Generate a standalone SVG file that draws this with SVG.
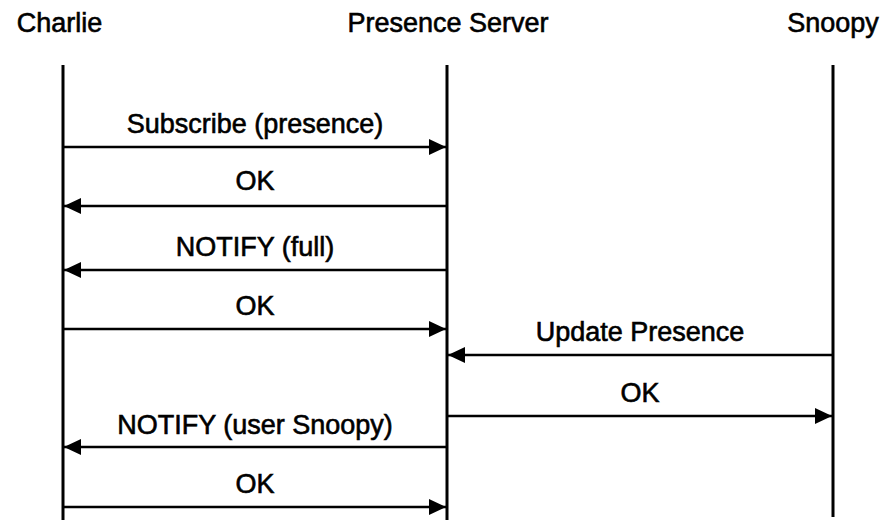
<svg xmlns="http://www.w3.org/2000/svg" width="894" height="525" viewBox="0 0 894 525">
<style>
text{font-family:"Liberation Sans",Arial,sans-serif;font-size:27px;fill:#000;stroke:#000;stroke-width:0.6;text-anchor:middle}
.life{stroke:#000;stroke-width:3;fill:none}
.msg{stroke:#000;stroke-width:2.6;fill:none;marker-end:url(#ah)}
</style>
<defs>
<marker id="ah" markerUnits="userSpaceOnUse" markerWidth="18" markerHeight="16" viewBox="0 0 18 16" refX="17" refY="8" orient="auto">
<path d="M0,0 L17,8 L0,16 Z" fill="#000"/>
</marker>
</defs>
<rect width="894" height="525" fill="#fff"/>
<g id="charlie">
<text x="59.5" y="32">Charlie</text>
<line class="life" x1="63" y1="65" x2="63" y2="520"/>
</g>
<g id="server">
<text x="448" y="32">Presence Server</text>
<line class="life" x1="447" y1="65" x2="447" y2="520"/>
</g>
<g id="snoopy">
<text x="833" y="32">Snoopy</text>
<line class="life" x1="833" y1="65" x2="833" y2="517"/>
</g>
<g id="connectors">
<line class="msg" x1="63" y1="147" x2="446" y2="147"/>
<text x="255" y="133">Subscribe (presence)</text>
<line class="msg" x1="447" y1="206" x2="64" y2="206"/>
<text x="255" y="190">OK</text>
<line class="msg" x1="447" y1="270" x2="64" y2="270"/>
<text x="255" y="256">NOTIFY (full)</text>
<line class="msg" x1="63" y1="329" x2="446" y2="329"/>
<text x="255" y="315">OK</text>
<line class="msg" x1="833" y1="355" x2="448" y2="355"/>
<text x="640" y="341">Update Presence</text>
<line class="msg" x1="447" y1="416" x2="832" y2="416"/>
<text x="640" y="402">OK</text>
<line class="msg" x1="447" y1="447" x2="64" y2="447"/>
<text x="255" y="434">NOTIFY (user Snoopy)</text>
<line class="msg" x1="63" y1="507" x2="446" y2="507"/>
<text x="255" y="493">OK</text>
</g>
</svg>
